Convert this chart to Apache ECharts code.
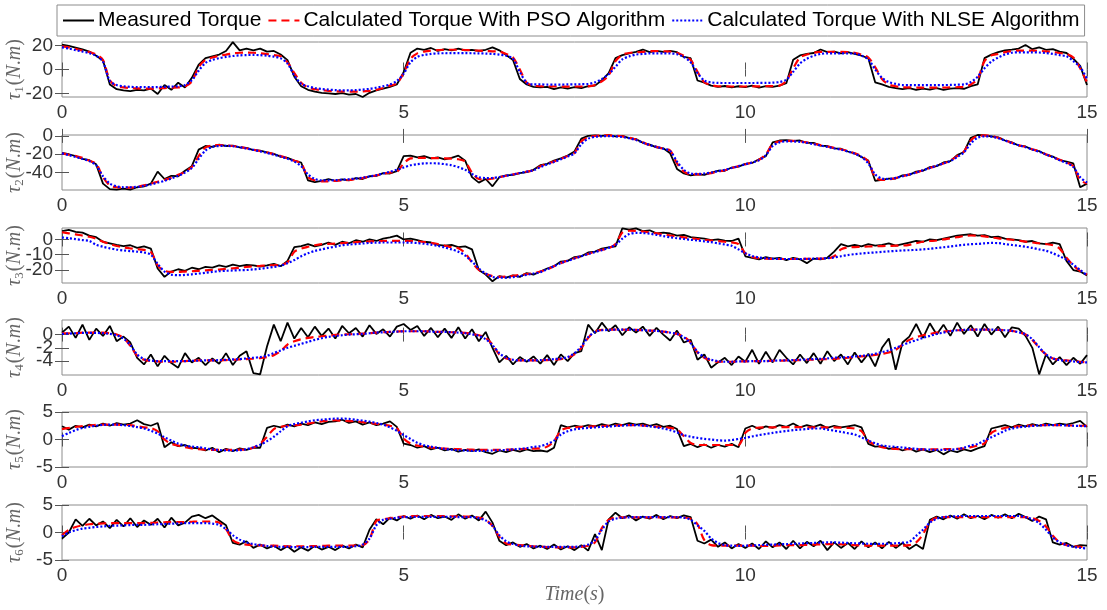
<!DOCTYPE html>
<html>
<head>
<meta charset="utf-8">
<script src="https://cdn.jsdelivr.net/npm/echarts@6/dist/echarts.min.js"></script>
<style>
  html, body { margin: 0; padding: 0; background: #fff; }
  #chart { width: 1107px; height: 610px; }
</style>
</head>
<body>
<div id="chart"></div>
<script>
// sample times, 0 .. 15 s every 0.1 s
const SAMPLE_STEP = 0.1;
const SAMPLE_COUNT = 151;
const time = [];
for (let i = 0; i < SAMPLE_COUNT; i++) time.push(+(i * SAMPLE_STEP).toFixed(1));

const seriesNames = ['Measured Torque', 'Calculated Torque With PSO Algorithm', 'Calculated Torque With NLSE Algorithm'];
const xTicks = [0, 5, 10, 15];

// ---- tau 1 ----
const tau1Range = [-23, 23];
const tau1Ticks = [-20, 0, 20];
const tau1Measured = [
  20.9, 19.8, 18.3, 16.8, 15, 11.5, 7.5, -12.5, -16.5, -17.5,
  -18, -17, -17.5, -16, -20.5, -13, -17, -11, -15, -7,
  4, 9.5, 11, 12.5, 15.5, 22.9, 16, 17.5, 16, 17.5,
  15, 15.5, 12.5, 7.8, -6, -14, -17, -18.5, -19.5, -20,
  -20.5, -19.8, -21, -20.5, -23, -19.5, -17.5, -16, -14.5, -12.5,
  -2.3, 14, 17.5, 16.5, 18, 15.5, 17, 16, 17.5, 16,
  16.5, 15.5, 16.5, 18.5, 16, 12.2, 8, -8, -12.5, -14.5,
  -15, -14.5, -16.4, -15, -16, -14.8, -15.5, -14, -13.5, -9,
  -3, 9.5, 12, 13.5, 14.8, 16.7, 14.5, 15.5, 14.8, 15.5,
  14.5, 10.5, 9.5, -9.2, -11, -13.5, -14.5, -13.8, -15, -14,
  -14.8, -13.5, -15.2, -14, -14.5, -13.5, -11.5, 8.1, 11.8, 13,
  13.8, 16.7, 14.5, 15, 13.5, 14.5, 13, 11.5, 9.5, -10.7,
  -12.5, -14.5, -15.5, -16.5, -15.5, -17, -16, -16.8, -15.5, -17,
  -16, -15.5, -16.2, -14, -12.5, 9.5, 12.4, 14.5, 16, 16.7,
  17.5, 20.5, 17, 18.5, 16.5, 17, 15, 13.8, 9, 3,
  -13
];
const tau1Pso = [
  19.4, 18.5, 17.2, 15.8, 14.5, 12.5, 8, -9, -14, -15,
  -15.5, -15.8, -16, -16, -15.8, -15.5, -15.2, -15, -14.2, -10,
  2, 8, 10, 11.5, 12.5, 13.5, 14, 14.2, 14, 13.5,
  12.8, 12, 11, 6, -3, -11, -15, -16.5, -17.3, -17.8,
  -18.2, -18.4, -18.5, -18.5, -18.3, -17.8, -17, -15.5, -13.5, -11.6,
  -3, 9, 13.5, 15, 15.8, 16.2, 16.5, 16.5, 16.5, 16.3,
  16, 15.8, 15.5, 15.2, 15, 13, 10, 0, -11, -13.5,
  -14, -14.2, -14.2, -14.3, -14.3, -14.2, -14.2, -14.1, -13, -10,
  -5, 7, 12.4, 13.8, 14.5, 14.7, 15.3, 15.3, 15.2, 15,
  14, 11.5, 8, -2, -10.7, -13, -14, -14.1, -14.2, -14.2,
  -14.2, -14.1, -14.1, -14, -13.9, -13.5, -9.5, 1, 10, 12.5,
  14, 14.7, 14.8, 14.8, 14.7, 14.5, 14, 12.5, 10, 2,
  -8, -12.5, -14, -15, -15, -15.1, -15.2, -15.2, -15.2, -15.1,
  -15, -14.8, -14.5, -12.5, -8, 7, 11.8, 13, 14.5, 15.5,
  15.8, 15.8, 15.8, 15.6, 15.2, 14.6, 13.8, 13, 10, 1,
  -10.7
];
const tau1Nlse = [
  18.5, 17.5, 16.2, 15, 13.6, 11.5, 6.4, -9.6, -13, -14,
  -14.5, -14.7, -14.8, -14.8, -14.7, -14.5, -14.3, -14, -13, -9,
  -1, 5.5, 8, 9.5, 10.5, 11.3, 11.8, 12.1, 12.2, 12,
  11.6, 10.8, 9.3, 5, -5, -12, -14, -15.5, -16.3, -16.8,
  -17.2, -17.4, -17.4, -17.2, -16.8, -16.2, -15.2, -14, -12.5, -9.6,
  -3.5, 6, 10.5, 12.2, 13, 13.5, 13.6, 13.7, 13.7, 13.7,
  13.6, 13.5, 13.3, 13, 12.5, 11.5, 9, -2, -11, -12.5,
  -12.5, -12.6, -12.6, -12.6, -12.5, -12.4, -12.3, -12.1, -10.7, -8,
  -4, 2.3, 8.5, 11, 12.5, 13, 13.5, 13.5, 13.5, 13.4,
  12.8, 10.5, 6, -3, -9.2, -10.8, -11.2, -11.3, -11.3, -11.3,
  -11.3, -11.3, -11.2, -11.2, -11, -10.5, -8.5, -2, 5, 9,
  11.5, 13, 13.5, 13.5, 13.5, 13.4, 13.3, 11.5, 8.5, 0,
  -7, -10.5, -12, -13, -13, -13.1, -13.1, -13.1, -13, -13,
  -12.9, -12.7, -12.5, -10.5, -6, 1, 6.6, 10, 12.5, 14,
  14.4, 14.4, 14.4, 14.2, 13.8, 13, 12, 11, 7, 2,
  -7.8
];

// ---- tau 2 ----
const tau2Range = [-59, 1];
const tau2Ticks = [-40, -20, 0];
const tau2Measured = [
  -18.5, -20, -22, -25, -26.5, -31, -52, -58, -58.5, -57.5,
  -58.5, -56, -55, -52, -39, -47, -43.5, -44, -38, -33,
  -15, -11, -12, -9.5, -11, -10.5, -12.5, -13, -15.5, -16,
  -18, -19.5, -22.5, -24, -27, -29, -48.5, -50.5, -49, -47,
  -49, -47.5, -48.5, -46, -47, -44, -43.5, -40.5, -41, -38.4,
  -22, -21.5, -23.5, -22, -24.5, -23.5, -25.5, -24, -21.5, -27,
  -45, -51, -47, -55, -45, -43, -42.5, -40.5, -39.5, -37,
  -32, -30.5, -27, -24.5, -21.5, -17, -3, 0, 0.5, 0,
  0.8, -0.5, 0, -2.5, -3.5, -7.5, -9.5, -12.5, -13.5, -19,
  -36, -41, -43, -42, -42.5, -40, -38, -38, -34.5, -33.5,
  -30.5, -29.5, -25.5, -22, -7, -5, -4.5, -5.5, -5, -7.5,
  -7.5, -10.5, -11, -13.5, -14, -17, -19, -23, -27, -49,
  -48, -46.5, -46.5, -43, -42.5, -39, -38, -34, -33, -29,
  -27.5, -21, -17.5, -2, 1, 0.5, -0.5, -1.5, -5, -7,
  -10.5, -11.5, -15, -16.5, -20.5, -22.5, -26.5, -28, -30, -56,
  -52
];
const tau2Pso = [
  -19, -20.5, -22, -24, -27, -30.5, -45, -54, -56, -56.5,
  -56.5, -55.5, -54, -52, -50, -48, -45.5, -42.5, -39, -34,
  -22, -12.5, -10.5, -10, -10.3, -11, -12, -13.5, -15, -16.5,
  -18, -20, -22, -24.5, -27, -30, -45, -48.5, -49.5, -49.5,
  -49, -48.5, -48, -47, -46, -44.5, -43, -41.5, -40, -39,
  -30, -24.5, -24, -24, -24.2, -24.3, -24.5, -24.8, -25.5, -28,
  -40, -47, -47.5, -46.5, -45, -43.5, -42, -40.5, -39, -37.5,
  -33, -30, -28, -25, -22, -18.5, -6, -1.5, 0, 0.5,
  0.5, 0.3, -0.5, -2, -4, -7, -10, -12, -14, -16,
  -30, -39, -42, -42, -41.5, -40.5, -39, -37.5, -35, -33,
  -31, -29, -26, -20, -9, -6, -5.5, -5.5, -6, -7,
  -8.5, -10, -11.5, -13, -14.5, -16.5, -19, -22, -28, -45,
  -48, -47.5, -46, -44, -42, -40, -37.5, -35, -32.5, -30,
  -27, -22, -17, -5, 0, 0.5, 0, -2, -4.5, -7.5,
  -10, -12, -14.5, -17, -20, -23, -26, -29, -33, -48,
  -52
];
const tau2Nlse = [
  -19, -21, -23, -25, -27.5, -32, -44, -52, -55, -56,
  -56, -55.5, -54.5, -53, -51, -49, -46.5, -43.5, -40, -35,
  -25, -16, -12, -11, -10.8, -11.3, -12.3, -13.7, -15.2, -16.8,
  -18.5, -20.5, -22.5, -25, -28, -33, -42, -47, -48.5, -48.5,
  -48.3, -47.8, -47.2, -46.5, -45.5, -44.3, -42.8, -41, -39, -37,
  -34.5, -32, -30.8, -30, -29.8, -30, -30.8, -32, -34, -37,
  -41.5, -45, -46, -45.8, -44.8, -43.5, -42, -40.5, -39, -37.5,
  -34, -31, -28.5, -25.5, -22.5, -19, -9, -3, -1, -0.5,
  -0.2, -0.5, -1.2, -2.5, -4.5, -7.3, -10, -12, -14, -16.5,
  -28, -37, -41, -41.5, -41, -40, -38.5, -37, -35, -33,
  -31, -29, -26.5, -21, -11, -7, -6, -6, -6.5, -7.5,
  -9, -10.5, -12, -13.5, -15, -17, -19.5, -23, -30, -42,
  -46.5, -47, -45.8, -44, -42, -40, -37.5, -35, -32.5, -30,
  -27.5, -23, -18, -8, -2, -0.5, -0.8, -2.5, -5, -7.8,
  -10.2, -12.3, -14.8, -17.3, -20.3, -23.3, -26.5, -29.5, -34, -45,
  -51
];

// ---- tau 3 ----
const tau3Range = [-28.5, 7.5];
const tau3Ticks = [-20, -10, 0];
const tau3Measured = [
  5.5, 6.3, 5, 4.5, 2.5, 1.5, -1.5, -2.5, -3.5, -4.3,
  -3.8, -5.5, -4.5, -6, -19, -24.5, -21, -19.5, -20.5, -18.5,
  -19.5, -18, -18.4, -17, -18, -16.5, -17.5, -16.6, -17, -17.7,
  -17, -16, -17.5, -14, -5, -4.3, -3, -4.5, -3.6, -2,
  -3.5, -1.5, -2.5, -0.5, -1.5, 0, -1, 0.5, 1.3, 2.5,
  0, 0.5, -0.4, -1.5, -2, -3.5, -4, -3.5, -5, -4.5,
  -6.5, -20, -23, -27.4, -24, -25, -23.5, -24.5, -22, -23,
  -21, -19, -17.5, -14.5, -14, -11.5, -11, -8.5, -8, -6,
  -5.2, -4.5, 7.3, 6.5, 7.3, 5.5, 6, 4, 4.5, 3.9,
  2.5, 3, 1.5, 1, 0.5, -0.5, 0, -0.7, -1, 0.5,
  -11, -12, -13, -11.5, -12.5, -12, -13.5, -12, -13, -15.5,
  -12.5, -13, -12, -8, -3, -4.5, -3.5, -4.5, -3, -4,
  -3.5, -2.5, -4, -3, -2, -1, -1.5, 0, -0.5, 0.5,
  1.5, 2.5, 3, 3.4, 2.5, 2.8, 1.5, 1.8, 0.5, 0,
  -0.5, -1.5, -1, -2.5, -3, -2, -3, -14, -20, -21,
  -23.5
];
const tau3Pso = [
  4.7, 4, 3.3, 2.5, 1.8, 0.5, -1.5, -3, -4.3, -5.2,
  -5.8, -6.3, -6.8, -8, -17, -20.5, -21.2, -21.2, -21, -20.8,
  -20.5, -20.2, -20, -19.7, -19.3, -18.9, -18.5, -18, -17.6, -17.3,
  -17, -16.8, -16.6, -15, -8, -6, -4.8, -3.8, -3.1, -2.9,
  -2.7, -2.4, -2.1, -1.8, -1.5, -1.3, -1.1, -1, -0.9, -0.9,
  -0.9, -1, -1.3, -1.7, -2.3, -3, -4, -5, -5.8, -9,
  -15, -20, -22.5, -24, -24.5, -24.3, -23.8, -23.2, -22.7, -22.2,
  -21, -19.5, -17.5, -15.5, -13.8, -12.3, -11, -9.5, -8, -6.8,
  -5.7, -3, 4.5, 5.7, 5.6, 5.2, 4.6, 4, 3.3, 2.6,
  2, 1.4, 0.8, 0.3, -0.2, -0.7, -1.1, -1.5, -1.9, -3,
  -9, -11.5, -12.3, -12.6, -12.7, -12.8, -12.8, -12.8, -12.7, -12.7,
  -12.6, -12.6, -12.5, -11, -6.5, -5.2, -5, -4.8, -4.6, -4.4,
  -4.3, -4.2, -4.1, -4, -3.5, -2.5, -1.5, -1, -0.7, 0,
  0.8, 1.5, 2.2, 2.6, 2.5, 2, 1.3, 0.7, 0.3, -0.2,
  -0.8, -1.4, -2, -2.5, -3, -3.8, -6, -12, -17, -20.7,
  -23
];
const tau3Nlse = [
  1.3, 0.8, 0.2, -0.4, -1, -3.5, -4.8, -5.8, -6.6, -7.2,
  -7.6, -8, -8.5, -10, -16, -21, -23, -23.4, -23.2, -22.8,
  -22.3, -21.8, -21.2, -20.8, -20.5, -20.3, -20.1, -20, -19.6, -19.2,
  -18.6, -18, -17.2, -15.5, -13.5, -11, -9, -7.5, -6.5, -5.5,
  -4.7, -3.8, -3.3, -3, -2.6, -2.3, -2.1, -2, -2, -2,
  -2, -2.1, -2.3, -2.8, -3.4, -4.2, -5.2, -6.5, -8, -10.5,
  -14.5, -19, -22.3, -24.5, -25, -25, -24.6, -24, -23.2, -22.3,
  -21.5, -19.5, -17.5, -15.5, -14, -12.5, -11, -9.5, -8.2, -7,
  -5.5, -3.5, 0.5, 3.5, 4.3, 4.2, 3.8, 3, 2.2, 1.4,
  0.8, 0.3, -0.2, -0.7, -1.2, -1.8, -2.5, -3.3, -4.1, -6.5,
  -9, -10.8, -11.8, -12.3, -12.6, -12.7, -12.8, -12.8, -12.8, -12.7,
  -12.6, -12.5, -12.3, -11.8, -11, -10.2, -9.6, -9.2, -8.8, -8.5,
  -8.1, -7.8, -7.5, -7.2, -7, -6.8, -6.5, -6.1, -5.6, -5.1,
  -4.6, -4, -3.5, -3.1, -2.9, -2.5, -2.3, -2.4, -3, -3.6,
  -4.1, -4.8, -5.5, -6.5, -7.4, -9, -11, -13.3, -16.5, -20,
  -23.4
];

// ---- tau 4 ----
const tau4Range = [-6.1, 2.2];
const tau4Ticks = [-4, -2, 0];
const tau4Measured = [
  0.3, 1.2, -0.5, 1.5, -0.8, 0.9, -0.2, 1.3, -1, -0.3,
  -1.2, -3.5, -4.5, -3, -4.8, -3.2, -4.3, -5, -2.8, -4.2,
  -3.5, -4.6, -3.6, -4.4, -2.8, -4.6, -3.2, -2.5, -5.8, -6,
  -1.8, 1.5, -1, 1.8, -0.6, 1, -0.4, 1.2, -0.2, 0.9,
  -0.6, 1.3, 0.2, 1, -0.3, 1.4, 0.1, 0.8, -0.3, 1.2,
  1.6, 0.7, 1.3, -0.2, 1, -0.4, 0.9, -0.5, 1.1, -0.6,
  0.8, -1, 0.4, -2, -4.2, -3.2, -4.5, -3.4, -4.1, -3.3,
  -4.4, -3.1, -4.6, -3, -4, -2.8, -2.5, 1.5, 0.2, 1.8,
  0.5, 1.4, -0.1, 1.1, 0.3, 1.2, -0.2, 1, 0, -0.9,
  0.6, -1.2, -0.8, -3.8, -3, -5, -4.2, -3.5, -4.6, -3.3,
  -4.1, -2.3, -4.4, -2.6, -4.2, -2.3, -3.5, -4.5, -3, -4.3,
  -2.8, -4.4, -2.5, -4, -3, -4.5, -2.7, -4.2, -2.9, -4.8,
  -2, -0.6, -5.3, -1.2, -0.3, 1.6, -0.5, 1.7, 0, 1.5,
  -0.2, 1.8, 0.1, 1.4, -0.3, 1.6, 0, 1.2, -0.4, 1.1,
  0.9, -0.2, -2, -6, -3, -4.5, -3.4, -4.6, -3.5, -4.4,
  -3.1
];
const tau4Pso = [
  0.2, 0.2, 0.2, 0.3, 0.3, 0.3, 0.3, 0.2, 0, -0.5,
  -1.7, -3.2, -3.8, -4, -4.05, -4.1, -4.1, -4.05, -4, -3.95,
  -3.9, -3.9, -3.9, -3.9, -3.85, -3.8, -3.75, -3.7, -3.65, -3.55,
  -3.4, -3.1, -2.5, -1.5, -1, -0.7, -0.5, -0.35, -0.25, -0.15,
  -0.05, 0, 0.05, 0.1, 0.15, 0.2, 0.3, 0.35, 0.4, 0.45,
  0.5, 0.5, 0.5, 0.5, 0.45, 0.4, 0.4, 0.35, 0.3, 0.25,
  0.1, -0.1, -0.5, -1.5, -3, -3.6, -3.8, -3.9, -3.9, -3.9,
  -3.9, -3.85, -3.8, -3.7, -3.5, -3, -2, -0.5, 0.5, 0.7,
  0.75, 0.75, 0.75, 0.7, 0.7, 0.65, 0.6, 0.55, 0.45, 0.3,
  0.1, -0.3, -1.2, -2.7, -3.5, -3.9, -4.1, -4.1, -4.1, -4.05,
  -4.05, -4, -4, -4, -3.95, -3.95, -3.9, -3.9, -3.85, -3.8,
  -3.8, -3.75, -3.7, -3.65, -3.6, -3.5, -3.4, -3.3, -3.2, -3.05,
  -2.9, -2.7, -2.3, -1.5, -0.8, -0.4, -0.1, 0.1, 0.3, 0.45,
  0.55, 0.65, 0.7, 0.75, 0.75, 0.75, 0.7, 0.7, 0.65, 0.55,
  0.35, 0, -0.8, -2, -3, -3.6, -3.8, -3.9, -4, -4.1,
  -4.2
];
const tau4Nlse = [
  0.1, 0.15, 0.2, 0.25, 0.25, 0.25, 0.2, 0.1, -0.1, -0.6,
  -1.6, -3, -3.7, -3.9, -4, -4, -4, -4, -4, -3.95,
  -3.95, -3.9, -3.9, -3.85, -3.8, -3.75, -3.7, -3.6, -3.5, -3.4,
  -3.2, -2.8, -2.4, -2, -1.7, -1.4, -1.1, -0.8, -0.55, -0.35,
  -0.2, -0.1, 0, 0.05, 0.1, 0.2, 0.3, 0.35, 0.4, 0.45,
  0.5, 0.5, 0.5, 0.5, 0.45, 0.4, 0.4, 0.35, 0.3, 0.2,
  0.05, -0.2, -0.7, -1.6, -2.8, -3.5, -3.8, -3.9, -3.9, -3.9,
  -3.85, -3.8, -3.7, -3.6, -3.4, -2.8, -1.8, -0.4, 0.4, 0.65,
  0.7, 0.75, 0.75, 0.75, 0.7, 0.65, 0.6, 0.55, 0.45, 0.3,
  0.1, -0.4, -1.3, -2.6, -3.4, -3.8, -4, -4.1, -4.1, -4.05,
  -4.05, -4, -4, -4, -3.95, -3.9, -3.9, -3.85, -3.8, -3.75,
  -3.7, -3.65, -3.6, -3.5, -3.45, -3.4, -3.3, -3.2, -3.1, -2.9,
  -2.65, -2.4, -2, -1.6, -1.2, -0.85, -0.5, -0.2, 0.1, 0.3,
  0.5, 0.65, 0.7, 0.75, 0.75, 0.75, 0.75, 0.7, 0.65, 0.55,
  0.35, 0.05, -0.7, -1.9, -3, -3.6, -3.85, -3.95, -4.05, -4.15,
  -4.2
];

// ---- tau 5 ----
const tau5Range = [-5, 5];
const tau5Ticks = [-5, 0, 5];
const tau5Measured = [
  2.4, 1.8, 2.5, 2.2, 2.7, 2.4, 2.9, 2.5, 3, 2.7,
  2.9, 3.5, 2.8, 2.5, 3, -1.4, -0.5, -1.2, -1, -1.5,
  -1.6, -2, -1.5, -2.3, -1.7, -2.1, -1.6, -1.9, -1.5, -1.5,
  2.1, 2.5, 2.2, 2.7, 2.4, 2.9, 2.6, 3.1, 2.8, 3.2,
  3.3, 3.6, 3, 3.3, 2.7, 3.1, 2.6, 2.9, 3.3, 2.3,
  -0.75, -1, -1.5, -1.2, -1.8, -1.5, -2, -1.7, -2.2, -1.9,
  -2.1, -1.8, -2.3, -2.6, -2, -2.3, -1.9, -2.2, -1.8, -2.1,
  -2, -2.2, -1.5, 2.6, 2.2, 2.5, 2.3, 2.6, 2.4, 2.8,
  2.5, 2.9, 2.6, 3, 2.7, 2.9, 2.5, 2.8, 2.3, 2.5,
  1.9, -1.2, -0.8, -1.4, -0.9, -1.5, -1, -1.3, -0.8, -1.4,
  2, 2.5, 1.9, 2.4, 2.1, 2.6, 2.3, 2.9, 2.2, 2.6,
  2.3, 2.7, 2.1, 2.5, 2.2, 2.4, 2.6, 2.2, -0.8, -1.3,
  -1.2, -1.7, -1.5, -2, -1.6, -2.2, -1.8, -2.3, -1.9, -2.7,
  -2, -2.3, -1.8, -2.1, -1.6, -1.2, 2, 2.3, 2.6, 2.2,
  2.7, 2.4, 2.8, 2.5, 2.9, 2.6, 2.9, 2.7, 3, 3.4,
  2.3
];
const tau5Pso = [
  1.9, 2.1, 2.3, 2.45, 2.55, 2.65, 2.7, 2.7, 2.7, 2.65,
  2.6, 2.4, 2.2, 2.1, 1.5, 0, -0.8, -1.1, -1.4, -1.6,
  -1.75, -1.85, -1.9, -1.9, -1.9, -1.9, -1.85, -1.8, -1.5, -0.8,
  0.5, 1.9, 2.3, 2.5, 2.6, 2.7, 2.9, 3.1, 3.3, 3.4,
  3.5, 3.4, 3.35, 3.3, 3.15, 3, 2.85, 2.7, 2.5, 2.1,
  0.2, -0.75, -1.1, -1.3, -1.45, -1.55, -1.65, -1.7, -1.75, -1.8,
  -1.85, -1.9, -1.9, -1.9, -1.9, -1.85, -1.8, -1.75, -1.7, -1.65,
  -1.6, -1.3, -0.3, 1.6, 2.1, 2.2, 2.3, 2.35, 2.4, 2.45,
  2.5, 2.55, 2.6, 2.6, 2.6, 2.55, 2.45, 2.35, 2.25, 2.1,
  1.8, 0.6, -0.6, -1, -1, -1, -1, -1, -1, -1,
  1.2, 2, 2.15, 2.2, 2.2, 2.25, 2.25, 2.25, 2.25, 2.2,
  2.2, 2.2, 2.2, 2.2, 2.15, 2.1, 2, 1.5, -0.2, -1,
  -1.4, -1.6, -1.7, -1.75, -1.75, -1.8, -1.8, -1.8, -1.8, -1.75,
  -1.75, -1.7, -1.6, -1.4, -1.1, -0.7, 1.2, 1.8, 2.1, 2.3,
  2.4, 2.5, 2.55, 2.6, 2.6, 2.6, 2.6, 2.55, 2.55, 2.5,
  2.5
];
const tau5Nlse = [
  0.6, 1.2, 1.7, 2.1, 2.3, 2.5, 2.65, 2.7, 2.7, 2.6,
  2.45, 2.25, 2, 1.6, 1.1, 0.4, -0.2, -0.75, -1.1, -1.3,
  -1.4, -1.6, -1.8, -1.9, -2, -2, -1.95, -1.75, -1.4, -0.95,
  -0.3, 0.5, 1.5, 2.4, 2.8, 3.05, 3.3, 3.5, 3.6, 3.7,
  3.8, 3.8, 3.75, 3.6, 3.45, 3.25, 3, 2.7, 2.2, 1.6,
  0.8, 0.1, -0.6, -1.05, -1.3, -1.5, -1.7, -1.85, -1.95, -2,
  -2.05, -2.05, -2.05, -2, -1.95, -1.9, -1.8, -1.7, -1.55, -1.35,
  -1.2, -0.8, -0.2, 0.9, 1.5, 1.85, 2, 2.1, 2.2, 2.3,
  2.35, 2.45, 2.5, 2.6, 2.6, 2.5, 2.4, 2.2, 2, 1.7,
  1.3, 0.8, 0.5, 0.3, 0.1, 0, -0.15, -0.2, -0.1, 0.1,
  0.3, 0.55, 0.8, 1, 1.2, 1.4, 1.55, 1.7, 1.8, 1.9,
  2, 2, 1.8, 1.6, 1.4, 1.15, 0.9, 0.4, -0.2, -0.7,
  -1.1, -1.25, -1.35, -1.45, -1.6, -1.7, -1.8, -1.85, -1.9, -1.9,
  -1.85, -1.75, -1.5, -1.1, -0.8, -0.2, 0.4, 1, 1.6, 2,
  2.2, 2.35, 2.45, 2.55, 2.6, 2.6, 2.6, 2.55, 2.5, 2.45,
  2.4
];

// ---- tau 6 ----
const tau6Range = [-5, 5];
const tau6Ticks = [-5, 0, 5];
const tau6Measured = [
  -1.1, 0, 2.4, 1.2, 2.5, 1.3, 2, 0.8, 2.3, 1.1,
  2.6, 1, 2.2, 1.4, 2.5, 0.9, 2.7, 1.3, 1.8, 2.9,
  3.2, 2.6, 3.1, 2.2, 1.3, -1.9, -2.2, -1.6, -2.8, -2.2,
  -2.9, -2.4, -3.2, -2.5, -3.5, -2.7, -3.3, -2.4, -3.1, -2.6,
  -3.2, -2.4, -2.9, -2.2, -2.7, 0.5, 2.4, 1.5, 2.7, 2.2,
  3, 2.5, 3.1, 2.4, 3.2, 2.6, 2.9, 2.3, 3.3, 2.5,
  3.1, 2.2, 3.8, 1.8, -1.5, -2.3, -1.8, -2.6, -2.1, -2.9,
  -2.4, -3, -2.2, -3.1, -2.5, -3.2, -2.3, -3.3, -0.3, -3.2,
  2.4, 3.6, 2.6, 3.1, 2.2, 2.9, 2.5, 3.2, 2.4, 3,
  2.6, 3.1, 2.8, -1.5, -2, -1.3, -2.6, -1.8, -2.9, -2.1,
  -2.8, -2, -3, -1.6, -2.7, -1.8, -3, -1.5, -2.9, -1.7,
  -2.5, -1.5, -3.2, -1.8, -2.8, -1.9, -3, -1.6, -2.7, -1.8,
  -2.9, -1.7, -2.8, -1.9, -3, -2.2, -3, 2.3, 2.9, 2.4,
  3.1, 2.5, 3.3, 2.6, 3, 2.4, 3.2, 2.7, 3.3, 2.6,
  3.4, 2.8, 2.1, 2.9, 2.4, -1.8, -2.2, -1.9, -2.6, -2.3,
  -2.4
];
const tau6Pso = [
  -0.5, 0.5, 1, 1.3, 1.5, 1.6, 1.65, 1.7, 1.7, 1.7,
  1.7, 1.7, 1.7, 1.75, 1.8, 1.85, 1.9, 1.9, 1.9, 1.95,
  2, 2, 2, 1.8, 0.6, -1.4, -2, -2.2, -2.3, -2.35,
  -2.4, -2.4, -2.45, -2.5, -2.5, -2.5, -2.5, -2.45, -2.45, -2.4,
  -2.4, -2.4, -2.4, -2.35, -2.3, -1.2, 2.1, 2.4, 2.6, 2.8,
  2.9, 2.95, 3, 3, 3, 3, 3, 2.95, 2.95, 2.9,
  2.9, 2.7, 2.3, 1.2, -0.8, -2, -2.2, -2.3, -2.4, -2.5,
  -2.6, -2.65, -2.7, -2.7, -2.7, -2.7, -2.6, -2.4, -1.8, 0.8,
  2.3, 2.7, 2.75, 2.75, 2.75, 2.75, 2.75, 2.75, 2.75, 2.75,
  2.75, 2.7, 2.5, 1.5, -1.4, -2.3, -2.4, -2.4, -2.4, -2.4,
  -2.4, -2.4, -2.45, -2.45, -2.4, -2.35, -2.3, -2.3, -2.3, -2.25,
  -2.2, -2.15, -2.1, -2.1, -2.15, -2.2, -2.3, -2.35, -2.4, -2.4,
  -2.4, -2.4, -2.4, -2.4, -2.3, -1.8, -0.3, 1.9, 2.7, 2.8,
  2.8, 2.8, 2.8, 2.8, 2.8, 2.8, 2.8, 2.8, 2.8, 2.8,
  2.8, 2.8, 2.6, 2.1, 1.1, -0.6, -1.8, -2.3, -2.5, -2.6,
  -2.7
];
const tau6Nlse = [
  -0.7, 0, 0.4, 0.7, 0.85, 1, 1.1, 1.2, 1.25, 1.3,
  1.35, 1.4, 1.4, 1.45, 1.5, 1.55, 1.6, 1.65, 1.7, 1.7,
  1.7, 1.7, 1.6, 1.4, 0.6, -0.5, -1.3, -1.8, -2.1, -2.3,
  -2.45, -2.55, -2.6, -2.6, -2.65, -2.65, -2.65, -2.6, -2.6, -2.6,
  -2.6, -2.6, -2.6, -2.5, -2.2, -1.1, 1.3, 2.3, 2.5, 2.7,
  2.8, 2.8, 2.85, 2.85, 2.85, 2.85, 2.85, 2.85, 2.8, 2.8,
  2.8, 2.6, 2.2, 1.2, -0.5, -1.6, -2.1, -2.4, -2.5, -2.55,
  -2.6, -2.6, -2.6, -2.6, -2.6, -2.6, -2.5, -2.2, -1.4, 0.5,
  2, 2.5, 2.7, 2.75, 2.8, 2.8, 2.8, 2.8, 2.8, 2.8,
  2.8, 2.7, 2.3, 1.3, 0.3, -1.1, -1.9, -2.3, -2.4, -2.45,
  -2.4, -2.35, -2.3, -2.25, -2.2, -2.15, -2.1, -2.05, -2, -1.95,
  -1.9, -1.85, -1.8, -1.8, -1.85, -1.9, -1.95, -2, -2.05, -2.05,
  -2.05, -2, -1.95, -1.85, -1.7, -0.6, 0.5, 1.8, 2.5, 2.8,
  2.9, 2.95, 3, 3, 3, 3, 3, 3, 3, 3,
  3, 2.8, 2.4, 1.7, 0.5, -0.9, -1.8, -2.3, -2.6, -2.8,
  -2.9
];

const panels = [
  { sub: '1', range: tau1Range, ticks: tau1Ticks, measured: tau1Measured, pso: tau1Pso, nlse: tau1Nlse },
  { sub: '2', range: tau2Range, ticks: tau2Ticks, measured: tau2Measured, pso: tau2Pso, nlse: tau2Nlse },
  { sub: '3', range: tau3Range, ticks: tau3Ticks, measured: tau3Measured, pso: tau3Pso, nlse: tau3Nlse },
  { sub: '4', range: tau4Range, ticks: tau4Ticks, measured: tau4Measured, pso: tau4Pso, nlse: tau4Nlse },
  { sub: '5', range: tau5Range, ticks: tau5Ticks, measured: tau5Measured, pso: tau5Pso, nlse: tau5Nlse },
  { sub: '6', range: tau6Range, ticks: tau6Ticks, measured: tau6Measured, pso: tau6Pso, nlse: tau6Nlse }
];

// layout
const PANEL_TOPS = [42, 135, 228, 320, 412, 505];
const PANEL_HEIGHT = 55;
const SANS = 'Liberation Sans, Arial, sans-serif';
const SERIF = 'Liberation Serif, Times New Roman, serif';
const BOX_COLOR = '#8c8c8c';
const TICK_COLOR = '#555';
const LABEL_COLOR = '#333';

const latexRich = {
  t: { fontFamily: SERIF, fontStyle: 'italic', fontSize: 20, color: '#666', lineHeight: 22 },
  p: { fontFamily: SERIF, fontSize: 20, color: '#666', lineHeight: 22 },
  s: { fontFamily: SERIF, fontSize: 13, color: '#666', lineHeight: 22, verticalAlign: 'bottom', padding: [8, 1, 0, 0] }
};

const tickStyle = { inside: true, length: 7, interval: 0, lineStyle: { color: TICK_COLOR, width: 1 } };
const yLabelStyle = {
  interval: 0, hideOverlap: false, showMinLabel: true, showMaxLabel: true,
  fontFamily: SANS, fontSize: 19, color: LABEL_COLOR, margin: 9
};

const grid = [];
const xAxis = [];
const yAxis = [];
const series = [];

panels.forEach((p, i) => {
  grid.push({
    left: 62, right: 20, top: PANEL_TOPS[i], height: PANEL_HEIGHT,
    show: true, borderColor: BOX_COLOR, borderWidth: 1,
    outerBoundsMode: 'none'
  });

  const isLast = i === panels.length - 1;
  // bottom x axis, with labels
  xAxis.push({
    type: 'value', gridIndex: i, min: 0, max: 15, interval: 5,
    axisLine: { show: false },
    axisTick: tickStyle,
    splitLine: { show: false },
    axisLabel: { fontFamily: SANS, fontSize: 19, color: LABEL_COLOR, margin: 6 },
    name: isLast ? '{t|Time}{p|(}{t|s}{p|)}' : '',
    nameLocation: 'middle', nameGap: 24, nameMoveOverlap: false,
    nameTextStyle: { rich: latexRich }
  });
  // top x axis, ticks only
  xAxis.push({
    type: 'value', gridIndex: i, position: 'top', min: 0, max: 15, interval: 5,
    axisLine: { show: false }, axisTick: tickStyle,
    splitLine: { show: false }, axisLabel: { show: false }
  });

  // left axis: all ticks, outer two labels, name
  yAxis.push({
    type: 'value', gridIndex: i, position: 'left', min: p.range[0], max: p.range[1],
    axisLine: { show: false },
    axisTick: Object.assign({ customValues: p.ticks }, tickStyle),
    splitLine: { show: false },
    axisLabel: Object.assign({ customValues: [p.ticks[0], p.ticks[2]] }, yLabelStyle),
    name: '{t|\u03c4}{s|' + p.sub + '}{p|(}{t|N}{p|.}{t|m}{p|)}',
    nameLocation: 'middle', nameGap: 36, nameRotate: 90, nameMoveOverlap: false,
    nameTextStyle: { rich: latexRich }
  });
  // right axis: ticks only
  yAxis.push({
    type: 'value', gridIndex: i, position: 'right', min: p.range[0], max: p.range[1],
    axisLine: { show: false },
    axisTick: Object.assign({ customValues: p.ticks }, tickStyle),
    splitLine: { show: false }, axisLabel: { show: false }
  });
  // second left axis: the middle label only (kept apart so it is not dropped as overlapping)
  yAxis.push({
    type: 'value', gridIndex: i, position: 'left', offset: 0, min: p.range[0], max: p.range[1],
    axisLine: { show: false }, axisTick: { show: false }, splitLine: { show: false },
    axisLabel: Object.assign({ customValues: [p.ticks[1]] }, yLabelStyle)
  });

  const xi = i * 2;
  const yi = i * 3;
  const toPairs = (vals) => time.map((t, k) => [t, vals[k]]);
  series.push({
    name: seriesNames[0], type: 'line', xAxisIndex: xi, yAxisIndex: yi,
    data: toPairs(p.measured), symbol: 'none',
    lineStyle: { color: '#000', width: 1.8 }, itemStyle: { color: '#000' }
  });
  series.push({
    name: seriesNames[1], type: 'line', xAxisIndex: xi, yAxisIndex: yi,
    data: toPairs(p.pso), symbol: 'none', smooth: 0.3,
    lineStyle: { color: '#ff0000', width: 2.2, type: [8, 5] }, itemStyle: { color: '#ff0000' }
  });
  series.push({
    name: seriesNames[2], type: 'line', xAxisIndex: xi, yAxisIndex: yi,
    data: toPairs(p.nlse), symbol: 'none', smooth: 0.3,
    lineStyle: { color: '#0000ff', width: 2.2, type: [2, 2] }, itemStyle: { color: '#0000ff' }
  });
});

const chart = echarts.init(document.getElementById('chart'), null, { renderer: 'canvas' });
chart.setOption({
  animation: false,
  backgroundColor: '#fff',
  legend: {
    data: seriesNames,
    left: 57, top: 5,
    padding: [5, 5, 5, 5],
    itemGap: 6, itemWidth: 31, itemHeight: 14,
    borderColor: BOX_COLOR, borderWidth: 1, backgroundColor: '#fff',
    itemStyle: { opacity: 0 },
    textStyle: { fontFamily: SANS, fontSize: 21, color: '#000', padding: [0, 0, 0, -1] }
  },
  grid, xAxis, yAxis, series
});
</script>
</body>
</html>
